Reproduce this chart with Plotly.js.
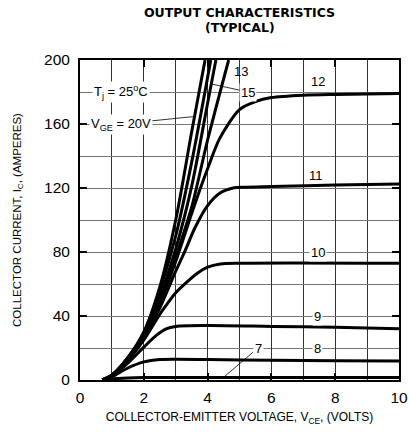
<!DOCTYPE html>
<html><head><meta charset="utf-8">
<script src="https://cdn.plot.ly/plotly-3.0.1.min.js"></script>
<style>html,body{margin:0;padding:0;background:#fff}#chart{width:409px;height:432px}</style>
</head><body><div id="chart"></div>
<script>
// Curve data: VCE (volts) and IC (amperes) per gate voltage
const vce_20 = [0.7, 1.0, 1.5, 2.0, 2.5, 3.0, 3.5, 3.92];
const ic_20  = [0, 3, 14, 30, 58, 100, 155, 200];

const vce_x  = [0.7, 1.0, 1.5, 2.0, 2.5, 3.0, 3.5, 4.1];          // unlabeled curve between 20V and 15V
const ic_x   = [0, 3, 14, 29.5, 56, 90, 136, 200];

const vce_15 = [0.7, 1.0, 1.5, 2.0, 2.5, 3.0, 3.5, 4.0, 4.26];
const ic_15  = [0, 3, 13.8, 28.5, 52, 82, 121, 173, 200];

const vce_13 = [0.7, 1.0, 1.5, 2.0, 2.5, 3.0, 3.5, 4.0, 4.66];
const ic_13  = [0, 3, 13.5, 27.5, 50, 77, 108, 150, 200];

const vce_12 = [0.7, 1.0, 1.5, 2.0, 2.5, 3.0, 3.5, 3.76, 4.0, 4.38, 5.0, 5.5, 6.0, 7.0, 8.0, 10.0];
const ic_12  = [0, 3, 13, 27, 48, 74, 104, 119, 132, 151, 169, 174, 176.5, 178, 178.5, 179];

const vce_11 = [0.7, 1.0, 1.5, 2.0, 2.5, 3.0, 3.3, 3.6, 4.0, 4.4, 4.8, 5.2, 6.0, 8.0, 10.0];
const ic_11  = [0, 3, 12.8, 26, 45, 68, 81, 95, 109, 117, 120, 120.5, 121, 121.8, 122.5];

const vce_10 = [0.7, 1.0, 1.5, 2.0, 2.5, 2.75, 3.0, 3.34, 3.7, 4.0, 4.4, 5.0, 10.0];
const ic_10  = [0, 2.8, 12.3, 25, 41, 48, 54.5, 61, 67, 70.5, 72.5, 73, 73];

const vce_9  = [0.7, 1.0, 1.5, 2.0, 2.4, 2.7, 3.0, 4.0, 6.0, 8.0, 10.0];
const ic_9   = [0, 2.5, 10.5, 20.5, 28, 32, 33.5, 34, 33.5, 33, 32];

const vce_8  = [0.7, 1.0, 1.5, 2.0, 2.5, 3.0, 4.0, 6.0, 8.0, 10.0];
const ic_8   = [0, 2, 7.5, 11.3, 12.8, 13, 12.8, 12.3, 12, 11.8];

const vce_7  = [0.7, 1.0, 1.5, 2.0, 4.0, 10.0];
const ic_7   = [0, 0.8, 1.3, 1.5, 1.5, 1.5];

const curveNames = ['VGE = 20V', 'VGE (unlabeled)', 'VGE = 15V', 'VGE = 13V', 'VGE = 12V',
                    'VGE = 11V', 'VGE = 10V', 'VGE = 9V', 'VGE = 8V', 'VGE = 7V'];
const xTickVals = [0, 2, 4, 6, 8, 10];
const yTickVals = [0, 40, 80, 120, 160, 200];

const seriesX = [vce_20, vce_x, vce_15, vce_13, vce_12, vce_11, vce_10, vce_9, vce_8, vce_7];
const seriesY = [ic_20, ic_x, ic_15, ic_13, ic_12, ic_11, ic_10, ic_9, ic_8, ic_7];

const traces = seriesX.map((xs, k) => ({
  type: 'scatter', mode: 'lines', name: curveNames[k],
  x: xs, y: seriesY[k],
  line: {color: '#000', width: 3, shape: 'spline', smoothing: 0.8},
  hoverinfo: 'skip', showlegend: false
}));

const F = 'Arial, "Liberation Sans", Helvetica, sans-serif';
const FW = '"DejaVu Sans", Verdana, sans-serif';
const lab = (text, x, y, bg) => ({
  text, x, y, xref: 'x', yref: 'y', showarrow: false,
  font: {family: F, size: 13, color: '#000'},
  bgcolor: bg ? '#fff' : 'rgba(0,0,0,0)', borderpad: 1
});
const arrowLab = (text, tx, ty, px, py) => ({
  text, x: px, y: py, ax: tx, ay: ty, xref: 'x', yref: 'y', axref: 'x', ayref: 'y',
  showarrow: true, arrowhead: 0, arrowwidth: 0.8, arrowcolor: '#000', standoff: 0,
  font: {family: F, size: 13, color: '#000'}, bgcolor: '#fff', borderpad: 1
});

const axisCommon = {
  ticks: 'inside', ticklen: 7, tickwidth: 2, tickcolor: '#000',
  showline: true, linewidth: 2, linecolor: '#000', mirror: 'ticks',
  showgrid: true, gridwidth: 1, zeroline: false,
  tickfont: {family: F, size: 15.5, color: '#000'}, automargin: false, fixedrange: true
};

const layout = {
  width: 409, height: 432,
  margin: {l: 80, r: 10, t: 60, b: 52},
  paper_bgcolor: '#fff', plot_bgcolor: '#fff',
  title: {text: '<b>OUTPUT CHARACTERISTICS</b>', font: {family: FW, size: 12.5, color: '#000'},
          x: 0.5, xref: 'paper', y: 1 - 13/432, yref: 'container', yanchor: 'middle'},
  xaxis: Object.assign({}, axisCommon, {
    range: [0, 10], tickvals: xTickVals, gridcolor: '#333', ticklabelstandoff: 2,
    minor: {dtick: 1, showgrid: true, gridcolor: '#333', gridwidth: 1, ticks: ''},
    title: {text: 'COLLECTOR-EMITTER VOLTAGE, V<sub>CE</sub>, (VOLTS)', font: {family: F, size: 12, color: '#000'}, standoff: 8}
  }),
  yaxis: Object.assign({}, axisCommon, {
    range: [0, 200], tickvals: yTickVals, gridcolor: '#777', ticklabelstandoff: 5,
    minor: {dtick: 20, showgrid: true, gridcolor: '#777', gridwidth: 1, ticks: ''},
    title: {text: 'COLLECTOR CURRENT, I<sub>C</sub>, (AMPERES)', font: {family: F, size: 11.5, color: '#000'}, standoff: 20}
  }),
  annotations: [
    {text: '<b>(TYPICAL)</b>', xref: 'paper', yref: 'paper', x: 0.5, y: (380 - 27) / 320,
     yanchor: 'middle', xanchor: 'center',
     showarrow: false, font: {family: FW, size: 12.5, color: '#000'}},
    lab('T<sub>j</sub> = 25<sup>o</sup>C', 1.3, 180, true),
    arrowLab('V<sub>GE</sub> = 20V', 1.28, 160, 3.55, 164.6),
    arrowLab('15', 5.27, 180, 4.12, 185),
    lab('13', 5.05, 193, false),
    lab('12', 7.46, 186.5, false),
    lab('11', 7.4, 128, false),
    lab('10', 7.46, 80, true),
    lab('9', 7.46, 40, true),
    lab('8', 7.46, 20, true),
    arrowLab('7', 5.58, 20, 4.49, 1.5)
  ],
  hovermode: false
};

Plotly.newPlot('chart', traces, layout, {displayModeBar: false, staticPlot: true});
</script>
</body></html>
